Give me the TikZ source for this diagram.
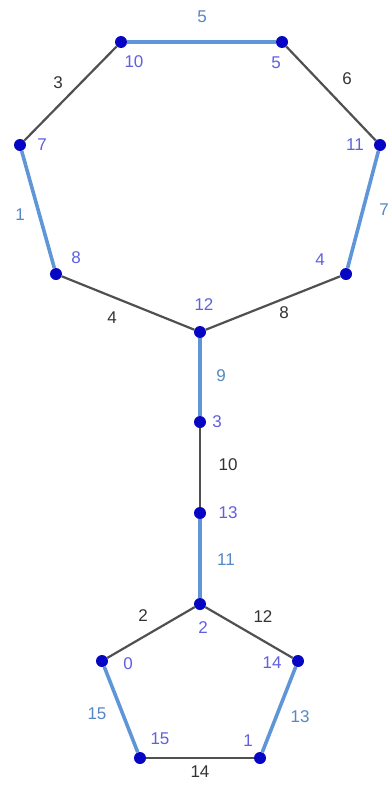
\documentclass[tikz,border=0pt]{standalone}
\usepackage{fontspec}
\setmainfont{Liberation Sans}

\definecolor{treeblue}{RGB}{95,150,215}
\definecolor{linkgray}{RGB}{80,80,80}
\definecolor{dotblue}{RGB}{5,5,195}
\definecolor{idpurple}{RGB}{95,95,225}

\begin{document}
\begin{tikzpicture}[x=1pt, y=-1pt,
    font=\fontsize{17}{20}\selectfont,
    vtx/.style={circle, fill=dotblue, inner sep=0pt, minimum size=12pt},
    vid/.style={text=idpurple, inner sep=0pt},
    tree/.style={treeblue, line width=3.6pt},
    link/.style={linkgray, line width=2.2pt},
    wtree/.style={text=treeblue!90!black},
    wlink/.style={text=black!80}]
  \useasboundingbox (0,0) rectangle (390,790);
  % Vertices, upper heptagon.
  \node[vtx] (v10) at (121,42) {};
  \node[vtx] (v5)  at (282,42) {};
  \node[vtx] (v7)  at (20,145) {};
  \node[vtx] (v11) at (380,145) {};
  \node[vtx] (v8)  at (56,274) {};
  \node[vtx] (v4)  at (346,274) {};
  \node[vtx] (v12) at (200,332) {};
  % Vertices, stem.
  \node[vtx] (v3)  at (200,422) {};
  \node[vtx] (v13) at (200,513) {};
  % Vertices, lower pentagon.
  \node[vtx] (v2)  at (200,604) {};
  \node[vtx] (v0)  at (102,661) {};
  \node[vtx] (v14) at (298,661) {};
  \node[vtx] (v15) at (140,758) {};
  \node[vtx] (v1)  at (260,758) {};
  % Tree edges (blue).
  \draw[tree] (v10) -- (v5);
  \draw[tree] (v7) -- (v8);
  \draw[tree] (v11) -- (v4);
  \draw[tree] (v12) -- (v3);
  \draw[tree] (v13) -- (v2);
  \draw[tree] (v0) -- (v15);
  \draw[tree] (v14) -- (v1);
  % Other edges (gray).
  \draw[link] (v10) -- (v7);
  \draw[link] (v5) -- (v11);
  \draw[link] (v8) -- (v12);
  \draw[link] (v4) -- (v12);
  \draw[link] (v3) -- (v13);
  \draw[link] (v2) -- (v0);
  \draw[link] (v2) -- (v14);
  \draw[link] (v15) -- (v1);
  % Vertex numbers.
  \node[vid] (n10) at ([shift={(13,20)}]v10)   {10};
  \node[vid] (n5)  at ([shift={(-6,21)}]v5)    {5};
  \node[vid] (n7)  at ([shift={(22,0)}]v7)     {7};
  \node[vid] (n11) at ([shift={(-25,0)}]v11)   {11};
  \node[vid] (n8)  at ([shift={(20,-16)}]v8)   {8};
  \node[vid] (n4)  at ([shift={(-26,-14)}]v4)  {4};
  \node[vid] (n12) at ([shift={(4,-27)}]v12)   {12};
  \node[vid] (n3)  at ([shift={(17,0)}]v3)     {3};
  \node[vid] (n13) at ([shift={(28,0)}]v13)    {13};
  \node[vid] (n2)  at ([shift={(3,24)}]v2)     {2};
  \node[vid] (n0)  at ([shift={(26,3)}]v0)     {0};
  \node[vid] (n14) at ([shift={(-26,2)}]v14)   {14};
  \node[vid] (n15) at ([shift={(20,-19)}]v15)  {15};
  \node[vid] (n1)  at ([shift={(-12,-17)}]v1)  {1};
  % Edge numbers.
  \node[wtree] (e5)  at (202,17)  {5};
  \node[wlink] (e3)  at (58,83)   {3};
  \node[wlink] (e6)  at (347,79)  {6};
  \node[wtree] (e1)  at (20,215)  {1};
  \node[wtree] (e7)  at (384,210) {7};
  \node[wlink] (e4)  at (112,318) {4};
  \node[wlink] (e8)  at (284,313) {8};
  \node[wtree] (e9)  at (221,376) {9};
  \node[wlink] (e10) at (228,465) {10};
  \node[wtree] (e11) at (226,560) {11};
  \node[wlink] (e2)  at (143,616) {2};
  \node[wlink] (e12) at (263,617) {12};
  \node[wtree] (e15) at (97,714)  {15};
  \node[wtree] (e13) at (300,717) {13};
  \node[wlink] (e14) at (200,772) {14};
\end{tikzpicture}
\end{document}
